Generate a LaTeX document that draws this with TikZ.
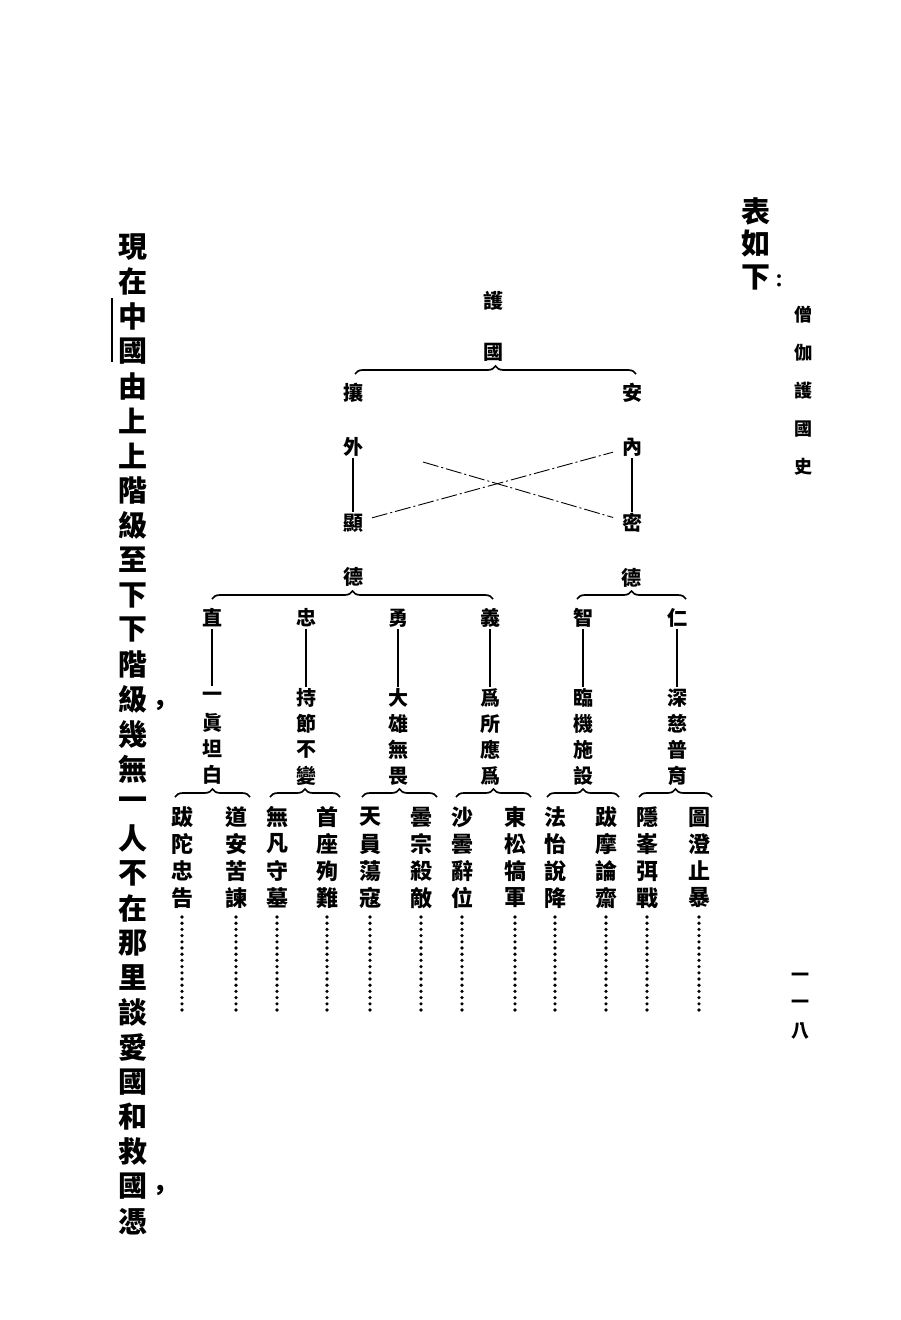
\documentclass[tikz,border=0pt]{standalone}
\usepackage{fontspec}
\newfontfamily\cjk{Noto Sans CJK TC}
\usetikzlibrary{decorations.pathreplacing}
\newcommand\vtext[6]{\foreach \c [count=\i] in {#6}{\node[#1] (#2-\i) at (#3,{#4+(\i-1)*#5}) {\c};}}
\begin{document}
\begin{tikzpicture}[x=1pt,y=-1pt,
  ch/.style={font=\cjk\bfseries\fontsize{20}{20}\selectfont, inner sep=0pt, minimum size=22pt},
  chb/.style={font=\cjk\bfseries\fontsize{22}{22}\selectfont, inner sep=0pt, minimum size=22pt},
  big/.style={font=\cjk\bfseries\fontsize{29}{29}\selectfont, inner sep=0pt, minimum size=30pt},
  hdr/.style={font=\cjk\bfseries\fontsize{18}{18}\selectfont, inner sep=0pt, minimum size=18pt},
  link/.style={line width=1.1pt},
  brc/.style={decorate, decoration={brace, amplitude=8pt}, line width=1.7pt},
  cross/.style={line width=0.9pt, dash pattern=on 16pt off 3pt on 2pt off 3pt}
]
\fill[white] (0,0) rectangle (900,1320);
\useasboundingbox (0,0) rectangle (900,1320);

% header
\vtext{big}{hd}{756}{211}{33}{表,如,下}
\node[font=\cjk\bfseries\fontsize{18}{18}\selectfont, inner sep=0pt] (colon) at (779,281) {：};
\vtext{hdr}{ti}{803}{315}{38}{僧,伽,護,國,史}
\vtext{hdr}{pg}{800}{977}{27}{一,一,八}

% left running text
\vtext{big}{L}{133}{247}{34.8}{現,在,中,國,由,上,上,階,級,至,下,下,階,級,幾,無,一,人,不,在,那,里,談,愛,國,和,救,國,憑}
\node[font=\cjk\bfseries\fontsize{26}{26}\selectfont, inner sep=0pt] (cm1) at (160,707) {，};
\node[font=\cjk\bfseries\fontsize{26}{26}\selectfont, inner sep=0pt] (cm2) at (160,1192) {，};
\draw[line width=2pt] (112,298) -- (112,362);

% tree top
\node[ch] (hu) at (493,301) {護};
\node[ch] (guo) at (493,352) {國};
\draw[brc] (355,374) -- (636,374);

\node[ch] (rang) at (353,393) {攘};
\node[ch] (wai) at (353,447) {外};
\node[ch] (xian) at (353,523) {顯};
\node[ch] (deA) at (353,577) {德};
\node[ch] (an) at (632,393) {安};
\node[ch] (nei) at (632,447) {內};
\node[ch] (mi) at (632,523) {密};
\node[ch] (deB) at (631,578) {德};
\draw[link] (wai) -- (xian);
\draw[link] (nei) -- (mi);
\coordinate (cs) at (423,462);
\draw[cross, shorten <=8pt, shorten >=8pt] (xian) -- (nei);
\draw[cross, shorten >=8pt] (cs) -- (mi);

% level 2
\draw[brc] (212,599) -- (493,599);
\draw[brc] (577,599) -- (686,599);

\node[ch] (zhi) at (212,618) {直};
\node[ch] (zhong) at (306,618) {忠};
\node[ch] (yong) at (398,618) {勇};
\node[ch] (yi) at (490,618) {義};
\node[ch] (zhi2) at (583,618) {智};
\node[ch] (ren) at (677,618) {仁};

\vtext{ch}{c1}{212}{697}{26}{一,眞,坦,白}
\vtext{ch}{c2}{306}{698}{26}{持,節,不,變}
\vtext{ch}{c3}{398}{698}{26}{大,雄,無,畏}
\vtext{ch}{c4}{490}{698}{26}{爲,所,應,爲}
\vtext{ch}{c5}{583}{698}{26}{臨,機,施,設}
\vtext{ch}{c6}{677}{698}{26}{深,慈,普,育}
\draw[link] (zhi) -- (c1-1);
\draw[link] (zhong) -- (c2-1);
\draw[link] (yong) -- (c3-1);
\draw[link] (yi) -- (c4-1);
\draw[link] (zhi2) -- (c5-1);
\draw[link] (ren) -- (c6-1);

% level 3 braces
\draw[brc] (175,797) -- (250,797);
\draw[brc] (270,797) -- (340,797);
\draw[brc] (362,797) -- (437,797);
\draw[brc] (456,797) -- (531,797);
\draw[brc] (547,797) -- (619,797);
\draw[brc] (639,797) -- (712,797);

% level 4
\vtext{chb}{d1}{182}{817}{27}{跋,陀,忠,告}
\vtext{chb}{d2}{236}{817}{27}{道,安,苦,諫}
\vtext{chb}{d3}{277}{817}{27}{無,凡,守,墓}
\vtext{chb}{d4}{327}{817}{27}{首,座,殉,難}
\vtext{chb}{d5}{370}{817}{27}{天,員,蕩,寇}
\vtext{chb}{d6}{421}{817}{27}{曇,宗,殺,敵}
\vtext{chb}{d7}{462}{817}{27}{沙,曇,辭,位}
\vtext{chb}{d8}{515}{817}{27}{東,松,犒,軍}
\vtext{chb}{d9}{555}{817}{27}{法,怡,說,降}
\vtext{chb}{d10}{606}{817}{27}{跋,摩,論,齋}
\vtext{chb}{d11}{647}{817}{27}{隱,峯,弭,戰}
\vtext{chb}{d12}{699}{817}{27}{圖,澄,止,暴}

\foreach \x in {182,236,277,327,370,421,462,515,555,606,647,699}
  \foreach \k in {0,...,15}
    \fill (\x,{917+\k*6.2}) circle (1.8pt);
\end{tikzpicture}
\end{document}
